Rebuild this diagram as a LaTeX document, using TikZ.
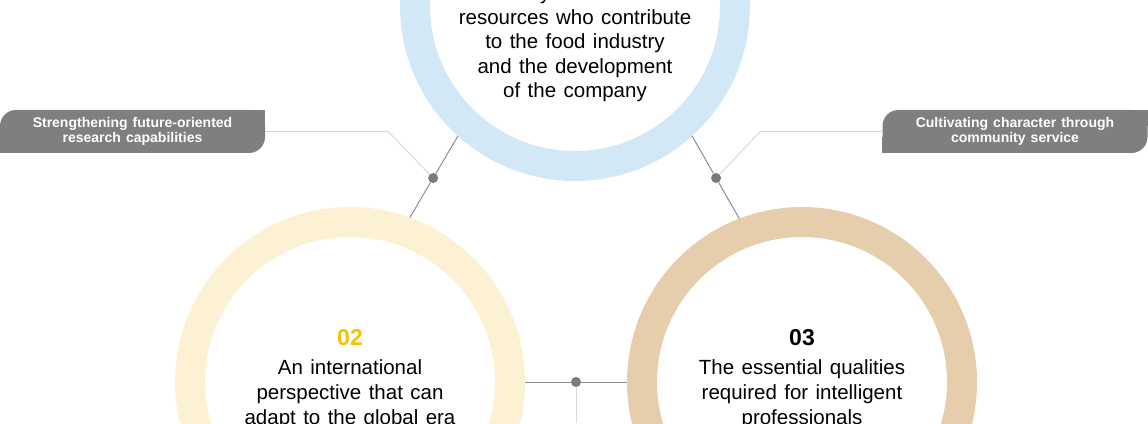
\documentclass[tikz,border=0pt]{standalone}
\usepackage{fontspec}
\setmainfont{Liberation Sans}[WordSpace=1.3]
\usepackage{xcolor}
\usetikzlibrary{positioning, calc}

\definecolor{ringblue}{HTML}{D3E8F7}
\definecolor{ringcream}{HTML}{FCF1D3}
\definecolor{ringtan}{HTML}{E6CEAD}
\definecolor{taggray}{HTML}{7F7F7F}
\definecolor{linedark}{HTML}{8C8C8C}
\definecolor{linelight}{HTML}{D9D9D9}
\definecolor{dotgray}{HTML}{7A7A7A}
\definecolor{numgold}{HTML}{F6C200}

\begin{document}
\begin{tikzpicture}[
        x=1pt, y=1pt,
        every node/.style={inner sep=0pt},
        ring/.style={draw=#1, circle, line width=30pt, minimum size=320pt},
        body/.style={align=center, font=\fontsize{20.5}{24.6}\selectfont},
        num/.style={font=\fontsize{23}{24}\selectfont\bfseries},
        tag/.style={fill=taggray, rounded corners=16pt, minimum width=265pt, minimum height=43pt,
            align=center, text=white, font=\fontsize{14}{15}\selectfont\bfseries},
        dot/.style={circle, fill=dotgray, minimum size=10pt},
        darkline/.style={draw=linedark, line width=1pt},
        lightline/.style={draw=linelight, line width=1pt}
    ]

    \useasboundingbox (0,0) rectangle (1148,423);
    \clip (0,0) rectangle (1148,423);

    % the three rings
    \node[ring=ringblue] (top) at (575,417) {};
    \node[ring=ringcream] (left) at (350,41) {};
    \node[ring=ringtan] (right) at (802,41) {};

    % side labels
    \node[tag] (tagL) at (132.5,291.5) {Strengthening future-oriented\\research capabilities};
    \fill[taggray] (tagL.north east) rectangle ++(-16,-16);
    \fill[taggray] (tagL.south west) rectangle ++(16,16);

    \node[tag] (tagR) at (1015,291.5) {Cultivating character through\\community service};
    \fill[taggray] (tagR.north east) rectangle ++(-16,-16);
    \fill[taggray] (tagR.south west) rectangle ++(16,16);

    % joints
    \node[dot] (dotL) at ($(top.228)!0.515!(left.70)$) {};
    \node[dot] (dotR) at ($(top.312)!0.508!(right.111)$) {};
    \node[dot] (dotM) at ($(left.east)!0.5!(right.west)$) {};
    \coordinate (stem) at (dotM |- 0,0);

    \draw[lightline] (tagL.east) -- ++(123,0) -- (dotL);
    \draw[lightline] (tagR.west) -- ++(-122,0) -- (dotR);
    \draw[lightline] (dotM) -- (stem);

    \draw[darkline] (top.228) -- (dotL) -- (left.70);
    \draw[darkline] (top.312) -- (dotR) -- (right.111);
    \draw[darkline] (left.east) -- (dotM) -- (right.west);

    % texts (base anchor sits on the last line)
    \node[body, anchor=base] (topText) at (575,325) {Creatively trained human\\resources who contribute\\to the food industry\\and the development\\of the company};

    \node[num, text=numgold, anchor=base] (numL) at ($(left)+(0,36.3)$) {02};
    \node[body, anchor=base] (textL) at ($(left)+(0,-42)$) {An international\\perspective that can\\adapt to the global era};

    \node[num, anchor=base] (numR) at ($(right)+(0,36.3)$) {03};
    \node[body, anchor=base] (textR) at ($(right)+(0,-42)$) {The essential qualities\\required for intelligent\\professionals};

\end{tikzpicture}
\end{document}
